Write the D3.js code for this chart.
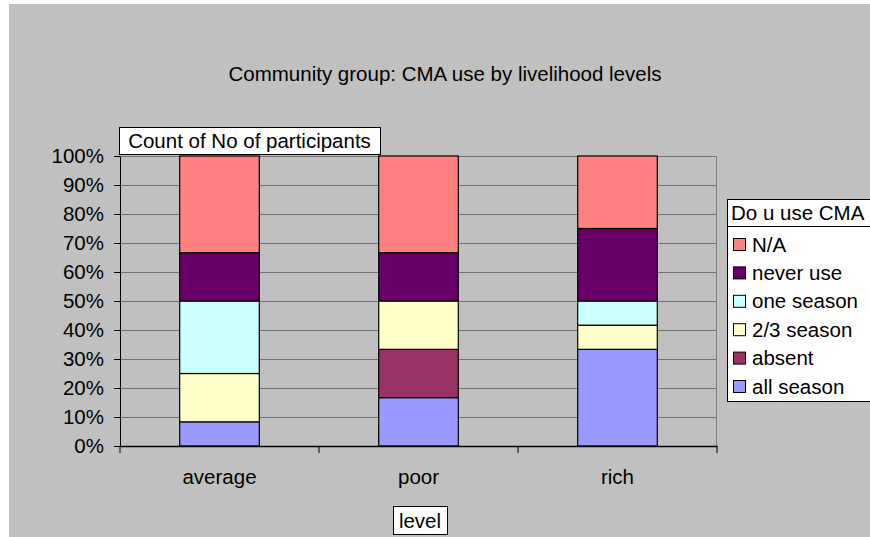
<!DOCTYPE html>
<html>
<head>
<meta charset="utf-8">
<script src="https://cdn.jsdelivr.net/npm/d3@7"></script>
<style>
  body { margin: 0; background: #fff; }
  svg { display: block; font-family: "Liberation Sans", Arial, sans-serif; }
  .axis text { font-size: 20.5px; fill: #000; }
  .axis path, .axis line { stroke: #000; }
</style>
</head>
<body>
<div id="chart"></div>
<script>
// categories (livelihood level)
var levels = ["average", "poor", "rich"];
// series, bottom to top
var series = ["all season", "absent", "2/3 season", "one season", "never use", "N/A"];
var colors = ["#9999ff", "#993366", "#ffffcc", "#ccffff", "#660066", "#ff8080"];
// counts of participants per level, in series order
var allSeason = [1, 1, 4];
var absent    = [0, 1, 0];
var twoThird  = [2, 1, 1];
var oneSeason = [3, 0, 1];
var neverUse  = [2, 1, 3];
var notAppl   = [4, 2, 3];
var yTicks = [0, 0.1, 0.2, 0.3, 0.4, 0.5, 0.6, 0.7, 0.8, 0.9, 1];

var W = 870, H = 537;
var margin = {top: 156, right: 153, bottom: 91, left: 120};
var width = W - margin.left - margin.right,
    height = H - margin.top - margin.bottom;
var fs = "20.5px";

var rows = levels.map(function(l, i) {
  return {level: l, "all season": allSeason[i], "absent": absent[i], "2/3 season": twoThird[i],
          "one season": oneSeason[i], "never use": neverUse[i], "N/A": notAppl[i]};
});

var stack = d3.stack().keys(series).offset(d3.stackOffsetExpand);
var layers = stack(rows);

var svg = d3.select("#chart").append("svg").attr("width", W).attr("height", H);

svg.append("rect").attr("x", 9).attr("y", 4).attr("width", W - 9).attr("height", H - 4)
  .attr("fill", "#c0c0c0");

svg.append("text").attr("x", 445).attr("y", 81).attr("text-anchor", "middle")
  .style("font-size", fs).text("Community group: CMA use by livelihood levels");

var x = d3.scaleBand().domain(levels).range([0, width]).paddingInner(0.6).paddingOuter(0.3);
var y = d3.scaleLinear().domain([0, 1]).range([height, 0]);

var g = svg.append("g").attr("transform", "translate(" + margin.left + "," + margin.top + ")");

// gridlines
g.selectAll(".grid").data(yTicks.slice(1)).enter().append("line")
  .attr("x1", 0).attr("x2", width)
  .attr("y1", function(d) { return Math.round(y(d)) + 0.5; })
  .attr("y2", function(d) { return Math.round(y(d)) + 0.5; })
  .attr("stroke", "#707070").attr("stroke-width", 1.2);
g.append("line").attr("x1", width - 0.5).attr("x2", width - 0.5).attr("y1", 0).attr("y2", height)
  .attr("stroke", "#808080");

g.selectAll(".layer").data(layers).enter().append("g")
  .attr("fill", function(d, i) { return colors[i]; })
  .selectAll("rect").data(function(d) { return d; }).enter().append("rect")
  .attr("x", function(d) { return x(d.data.level); })
  .attr("width", x.bandwidth())
  .attr("y", function(d) { return y(d[1]); })
  .attr("height", function(d) { return y(d[0]) - y(d[1]); })
  .attr("stroke", "#000").attr("stroke-width", function(d) { return d[1] > d[0] ? 1.2 : 0; });

g.append("g").attr("class", "axis")
  .call(d3.axisLeft(y).tickValues(yTicks).tickFormat(d3.format(".0%")).tickSize(6).tickPadding(10).tickSizeOuter(0));

var xAxis = g.append("g").attr("class", "axis").attr("transform", "translate(0," + height + ")")
  .call(d3.axisBottom(x).tickSize(0).tickPadding(23).tickSizeOuter(0));
// category separators below the axis
var step = x.step();
xAxis.selectAll(".sep").data(d3.range(levels.length + 1)).enter().append("line")
  .attr("x1", function(d) { return d * step; }).attr("x2", function(d) { return d * step; })
  .attr("y1", 0).attr("y2", 7).attr("stroke", "#000");
xAxis.select(".domain").attr("stroke", "#000").attr("stroke-width", 1.5);

// field buttons
function fieldBox(tx, bx, by, bw, bh) {
  svg.append("rect").attr("x", bx + 0.5).attr("y", by + 0.5).attr("width", bw).attr("height", bh)
    .attr("fill", "#fff").attr("stroke", "#000");
  svg.append("text").attr("x", bx + bw / 2).attr("y", by + bh / 2 + 7.5).attr("text-anchor", "middle")
    .style("font-size", fs).text(tx);
}
fieldBox("Count of No of participants", 119, 127, 261, 27);
fieldBox("level", 393, 506, 54, 28);

// legend
var lg = svg.append("g");
lg.append("rect").attr("x", 727.5).attr("y", 199.5).attr("width", 150).attr("height", 202)
  .attr("fill", "#fff").attr("stroke", "#000");
lg.append("line").attr("x1", 727).attr("x2", 870).attr("y1", 226.5).attr("y2", 226.5).attr("stroke", "#000");
lg.append("text").attr("x", 731).attr("y", 220).style("font-size", fs).text("Do u use CMA");
var items = series.slice().reverse();
var itemColors = colors.slice().reverse();
var li = lg.selectAll(".li").data(items).enter().append("g")
  .attr("transform", function(d, i) { return "translate(733," + (238 + i * 28.4) + ")"; });
li.append("rect").attr("x", 0.5).attr("y", 0.5).attr("width", 12).attr("height", 12)
  .attr("fill", function(d, i) { return itemColors[i]; }).attr("stroke", "#000");
li.append("text").attr("x", 19).attr("y", 13.5).style("font-size", fs).text(function(d) { return d; });
</script>
</body>
</html>
